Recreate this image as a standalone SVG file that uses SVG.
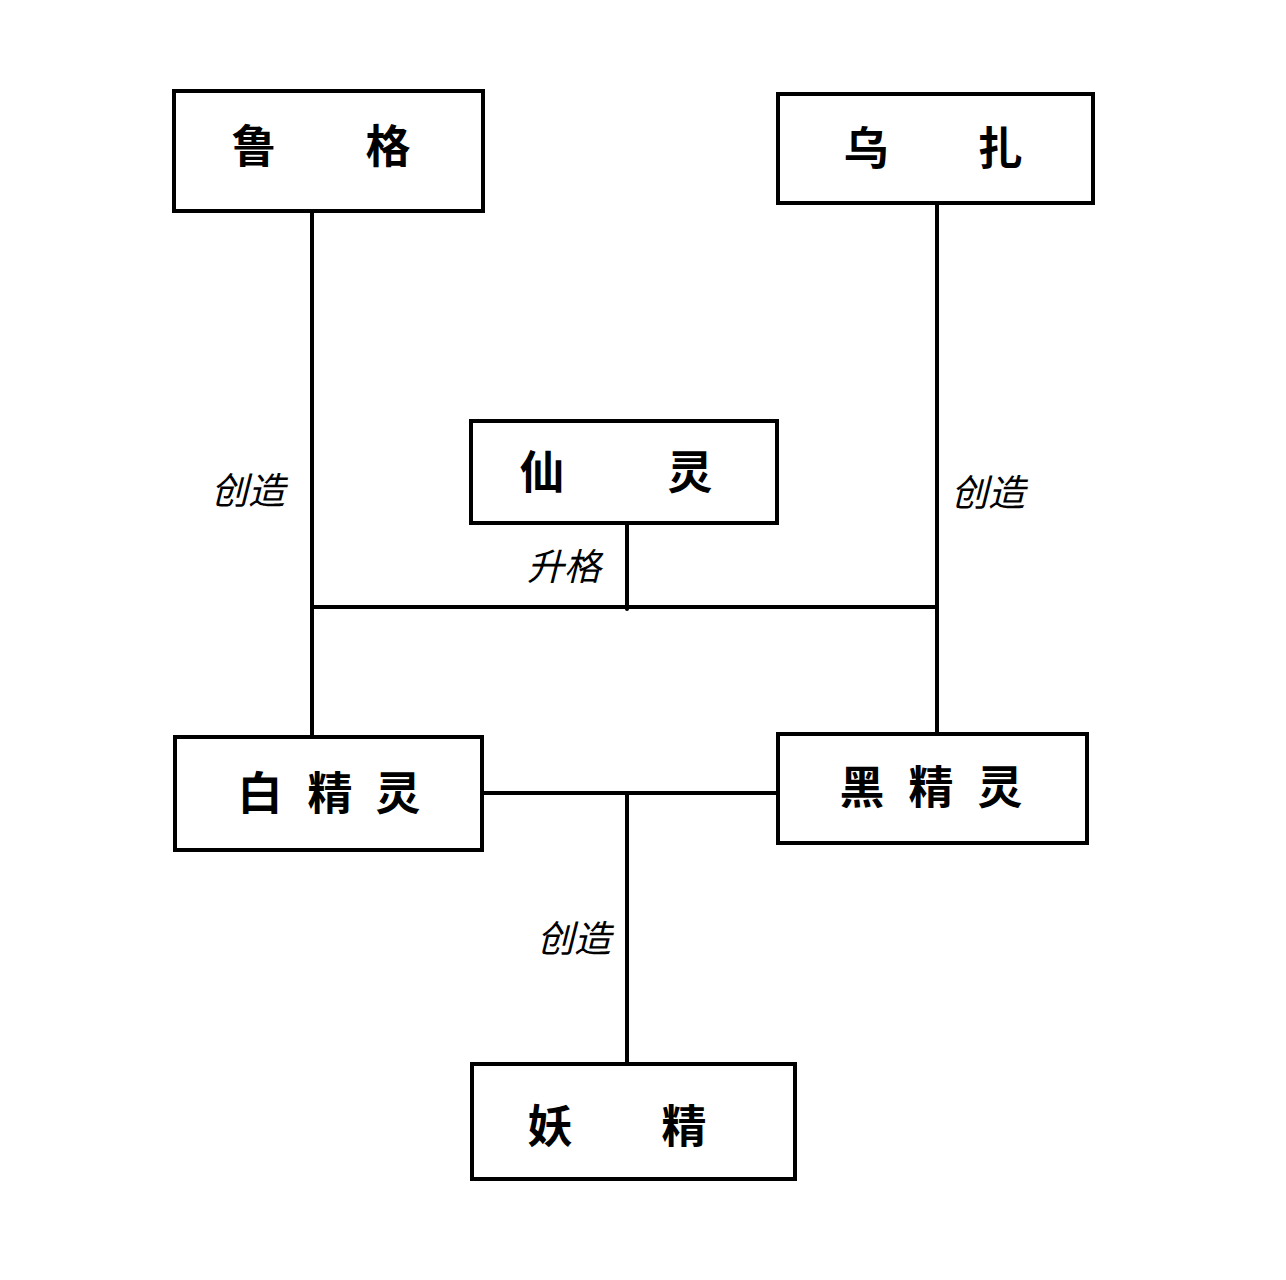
<svg xmlns="http://www.w3.org/2000/svg" width="1286" height="1280" viewBox="0 0 1286 1280">
<style>
.box{fill:#fff;stroke:#000;stroke-width:4}
.conn{stroke:#000;stroke-width:4;fill:none;stroke-linecap:round}
.nt{font-family:"Noto Sans CJK SC","Noto Sans",sans-serif;font-weight:bold;font-size:45px;fill:#000;text-anchor:middle}
.lb{font-family:"Noto Sans CJK SC","Noto Sans",sans-serif;font-style:italic;font-size:37px;fill:#000}
</style>
<rect width="1286" height="1280" fill="#fff"/>
<g id="connectors">
<line class="conn" x1="312" y1="211" x2="312" y2="741"/>
<line class="conn" x1="937" y1="205" x2="937" y2="733"/>
<line class="conn" x1="312" y1="607" x2="937" y2="607"/>
<line class="conn" x1="627" y1="522" x2="627" y2="609"/>
<line class="conn" x1="483" y1="793" x2="777" y2="793"/>
<line class="conn" x1="627" y1="793" x2="627" y2="1063"/>
<text class="lb" x="211" y="504">创造</text>
<text class="lb" x="527" y="580">升格</text>
<text class="lb" x="951" y="506">创造</text>
<text class="lb" x="537" y="952">创造</text>
</g>
<g id="node-luge">
<rect class="box" x="174" y="91" width="309" height="120"/>
<text class="nt" x="254 388" y="163">鲁格</text>
</g>
<g id="node-wuzha">
<rect class="box" x="778" y="94" width="315" height="109"/>
<text class="nt" x="866 1000" y="165">乌扎</text>
</g>
<g id="node-xianling">
<rect class="box" x="471" y="421" width="306" height="102"/>
<text class="nt" x="542 690" y="489">仙灵</text>
</g>
<g id="node-baijingling">
<rect class="box" x="175" y="737" width="307" height="113"/>
<text class="nt" x="260 330 398" y="810">白精灵</text>
</g>
<g id="node-heijingling">
<rect class="box" x="778" y="734" width="309" height="109"/>
<text class="nt" x="862 931 1000" y="804">黑精灵</text>
</g>
<g id="node-yaojing">
<rect class="box" x="472" y="1064" width="323" height="115"/>
<text class="nt" x="550 684" y="1143">妖精</text>
</g>
</svg>
